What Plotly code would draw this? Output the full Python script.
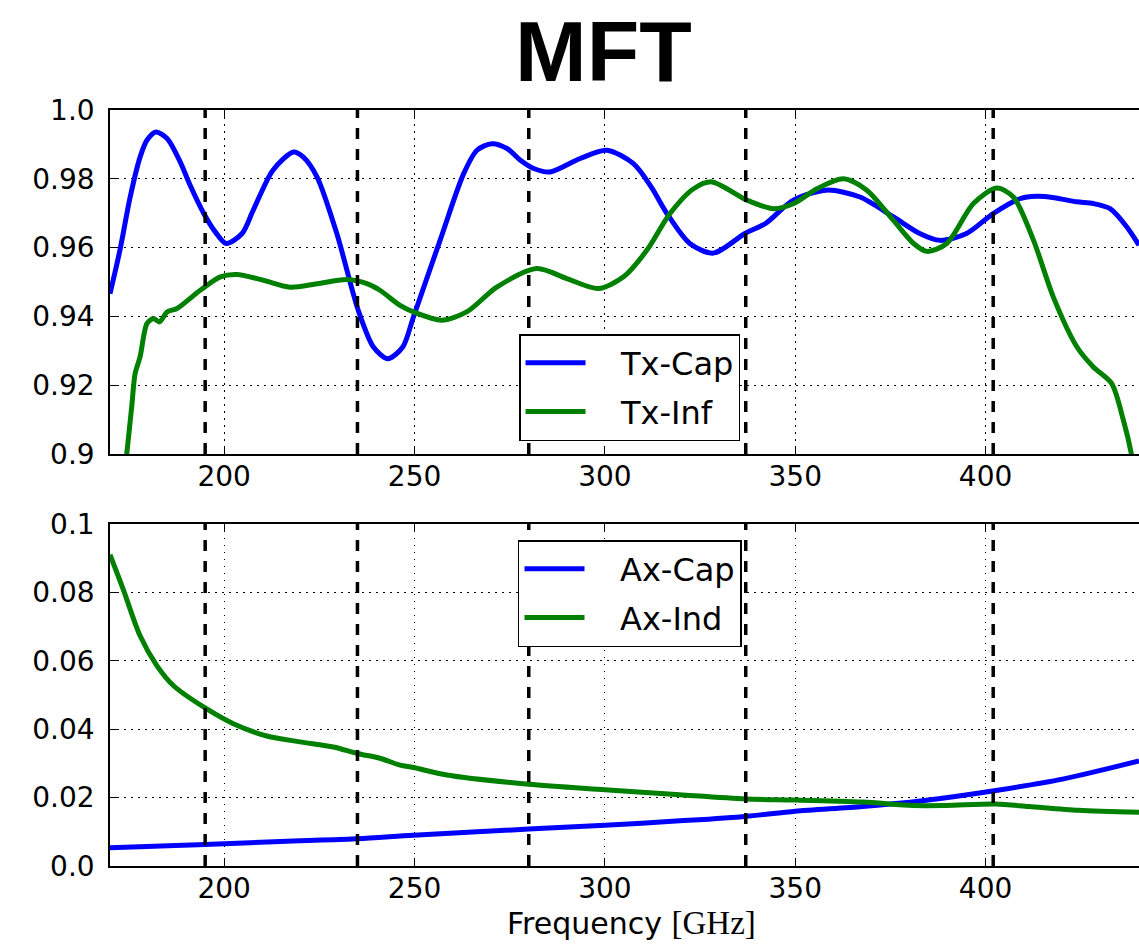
import plotly.graph_objects as go

# ---------------- data ----------------
band_edges = [195, 235, 280, 337, 402]

tx_cap_f = [170, 172.6, 175.3, 177.9, 179.7, 182.1, 185, 188.4, 190.9, 194.6, 197.7, 200.5, 204.7,
            207.6, 212.8, 218.2, 220.8, 224.4, 229.6, 235.2, 239.2, 243, 246.9, 249.7, 256.7, 262.9,
            266.4, 270.3, 274.3, 277.8, 281.3, 285.6, 293.5, 300.5, 307.5, 312.2, 316.3, 322.3,
            328.5, 336.8, 342.2, 349.5, 358.3, 367, 375.8, 382.7, 388, 395, 402, 409, 413.4, 418,
            423.9, 428.3, 432.7, 437.1, 440.3]
tx_cap_v = [0.9466, 0.9592, 0.9747, 0.9863, 0.9912, 0.9936, 0.9917, 0.985, 0.9785, 0.970, 0.9645,
            0.9612, 0.9641, 0.9708, 0.9825, 0.9878, 0.9863, 0.9805, 0.964, 0.9418, 0.9311, 0.9277,
            0.9311, 0.9398, 0.9621, 0.9815, 0.9883, 0.9902, 0.9888, 0.9854, 0.983, 0.982, 0.9859,
            0.9883, 0.9844, 0.9776, 0.9699, 0.9612, 0.9584, 0.9641, 0.967, 0.9738, 0.9767, 0.9747,
            0.9689, 0.9641, 0.9621, 0.9641, 0.9699, 0.9742, 0.9749, 0.9745, 0.9733, 0.9728, 0.9713,
            0.966, 0.9607]

tx_inf_f = [172.5, 174.4, 175.7, 176.6, 177.9, 179.7, 181.4, 183, 185, 187.6, 193.7, 199, 203.3,
            210.3, 217.3, 224.4, 232.2, 237.5, 240.9, 246.2, 249.7, 257.1, 263.7, 271.6, 282.1, 290,
            298.3, 304.9, 311, 317.1, 323.3, 328.1, 337.3, 344.3, 349.6, 355.7, 362.7, 368.8, 375.8,
            381.1, 384.6, 389.8, 396.8, 402.9, 407.3, 412.6, 417.8, 424, 428.3, 433.1, 436.2, 438.3,
            440.3]
tx_inf_v = [0.88, 0.9, 0.9137, 0.9234, 0.9282, 0.9379, 0.9394, 0.9384, 0.9413, 0.9423, 0.9476,
            0.9515, 0.9522, 0.9505, 0.9485, 0.9495, 0.9507, 0.9495, 0.9476, 0.9432, 0.9413, 0.9389,
            0.9413, 0.9485, 0.9539, 0.951, 0.9481, 0.9515, 0.9592, 0.9699, 0.9771, 0.9791, 0.9738,
            0.9713, 0.9728, 0.9771, 0.980, 0.9767, 0.9679, 0.9612, 0.9589, 0.9612, 0.9728, 0.9773,
            0.9747, 0.9621, 0.9456, 0.9311, 0.9253, 0.9205, 0.9098, 0.9, 0.885]

ax_cap_f = [170, 195, 219.9, 235, 249.7, 280, 300, 319.7, 337, 350, 367.7, 383.4, 402.7, 420.2, 440.3]
ax_cap_v = [0.0053, 0.0063, 0.0074, 0.008, 0.009, 0.0108, 0.0119, 0.0132, 0.0145, 0.016, 0.0174,
            0.0191, 0.0221, 0.0254, 0.0307]

ax_ind_f = [170, 173.5, 177.9, 182.3, 186.7, 195, 202.4, 211.2, 219.9, 228.7, 234.9, 240.9, 246.2,
            249.7, 258.5, 280, 300, 319.7, 337, 350, 367.7, 380.9, 389.6, 402.7, 411.4, 424.4, 440.3]
ax_ind_v = [0.0910, 0.0808, 0.0673, 0.0586, 0.0527, 0.0462, 0.0416, 0.0380, 0.0363, 0.0348, 0.0329,
            0.0315, 0.0295, 0.0288, 0.0266, 0.0239, 0.0223, 0.0208, 0.0196, 0.0193, 0.0187, 0.0177,
            0.0177, 0.0181, 0.0174, 0.0163, 0.0157]

x_ticks = [200, 250, 300, 350, 400]
top_yticks = [0.9, 0.92, 0.94, 0.96, 0.98, 1.0]
top_ylabels = ["0.9", "0.92", "0.94", "0.96", "0.98", "1.0"]
bot_yticks = [0.0, 0.02, 0.04, 0.06, 0.08, 0.1]
bot_ylabels = ["0.0", "0.02", "0.04", "0.06", "0.08", "0.1"]

BLUE = "#0000ff"
GREEN = "#008000"
LW = 5
PAD = "\u00a0\u00a0\u00a0"

fig = go.Figure()
fig.add_trace(go.Scatter(x=tx_cap_f, y=tx_cap_v, mode="lines", name=PAD + "Tx-Cap",
                         line=dict(color=BLUE, width=LW, shape="spline", smoothing=0.8),
                         xaxis="x", yaxis="y", legend="legend", legendgroup="a"))
fig.add_trace(go.Scatter(x=tx_inf_f, y=tx_inf_v, mode="lines", name=PAD + "Tx-Inf",
                         line=dict(color=GREEN, width=LW, shape="spline", smoothing=0.8),
                         xaxis="x", yaxis="y", legend="legend", legendgroup="b"))
fig.add_trace(go.Scatter(x=ax_cap_f, y=ax_cap_v, mode="lines", name=PAD + "Ax-Cap",
                         line=dict(color=BLUE, width=LW, shape="spline", smoothing=0.8),
                         xaxis="x2", yaxis="y2", legend="legend2", legendgroup="c"))
fig.add_trace(go.Scatter(x=ax_ind_f, y=ax_ind_v, mode="lines", name=PAD + "Ax-Ind",
                         line=dict(color=GREEN, width=LW, shape="spline", smoothing=0.8),
                         xaxis="x2", yaxis="y2", legend="legend2", legendgroup="d"))

for xa, ya in (("x", "y"), ("x2", "y2")):
    for e in band_edges:
        fig.add_shape(type="line", xref=xa, yref=ya + " domain", x0=e, x1=e, y0=0, y1=1,
                      line=dict(color="black", width=3.5, dash="11px,10px"), layer="above")

tickfont = dict(family="DejaVu Sans", size=28, color="black")
xcommon = dict(range=[170, 440.3], tickvals=x_ticks, showline=True, linecolor="black", linewidth=1.5,
               mirror="ticks", ticks="inside", ticklen=8, tickcolor="black", tickfont=tickfont,
               showgrid=True, gridcolor="black", gridwidth=1, griddash="1.5px,5.5px",
               zeroline=False, ticklabelstandoff=-3)
ycommon = dict(showline=True, linecolor="black", linewidth=1.5, mirror=False, ticks="inside",
               ticklen=8, tickcolor="black", tickfont=tickfont, showgrid=True, gridcolor="black",
               gridwidth=1, griddash="1.5px,5.5px", zeroline=False, ticklabelstandoff=8)

TOP_DOM = [0.545, 1.0]
BOT_DOM = [0.0, 0.4524]

legend_common = dict(xanchor="left", yanchor="top", bordercolor="black", borderwidth=1.5,
                     bgcolor="white", itemwidth=60, tracegroupgap=4,
                     font=dict(family="DejaVu Sans", size=32, color="black"))

fig.update_layout(
    width=1139, height=945,
    margin=dict(l=110, r=0, t=110, b=79),
    plot_bgcolor="white", paper_bgcolor="white",
    showlegend=True,
    xaxis=dict(**xcommon, anchor="y", domain=[0, 1]),
    yaxis=dict(**ycommon, anchor="x", domain=TOP_DOM, range=[0.9, 1.0],
               tickvals=top_yticks, ticktext=top_ylabels),
    xaxis2=dict(**xcommon, anchor="y2", domain=[0, 1]),
    yaxis2=dict(**ycommon, anchor="x2", domain=BOT_DOM, range=[0.0, 0.1],
                tickvals=bot_yticks, ticktext=bot_ylabels),
    legend=dict(x=0.3975, y=0.7037, **legend_common),
    legend2=dict(x=0.3965, y=0.4312, **legend_common),
    annotations=[
        dict(text="<b>MFT</b>", xref="paper", yref="paper", x=0.48, y=1.078,
             xanchor="center", yanchor="middle", showarrow=False,
             font=dict(family="Liberation Sans", size=86, color="black")),
        dict(text="Frequency <span style='font-family:Liberation Serif;font-size:33px'>[GHz]</span>",
             xref="paper", yref="paper", x=0.507, y=-0.0754, xanchor="center", yanchor="middle",
             showarrow=False, borderpad=0, font=dict(family="DejaVu Sans", size=30, color="black")),
    ],
)

fig.write_html("out.html")
